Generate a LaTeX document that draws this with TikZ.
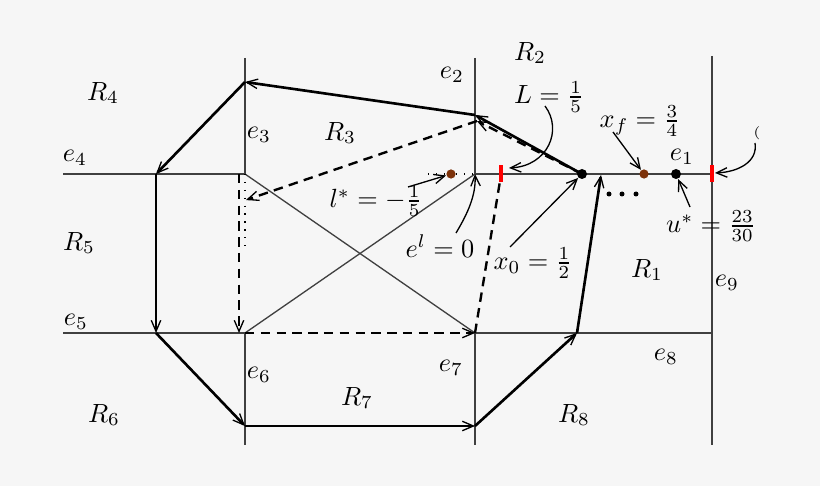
\documentclass[tikz,border=0pt]{standalone}
\usepackage{amsmath,amssymb}
\usetikzlibrary{arrows.meta}
\definecolor{bgcol}{RGB}{246,246,246}
\definecolor{dotbrown}{RGB}{125,50,10}

\begin{document}
\begin{tikzpicture}[
            x=0.38pt, y=-0.38pt,
            edgeline/.style={black!75, line width=0.5pt},
            boldpath/.style={line width=1pt, -{Straight Barb[length=4.2pt,width=3.6pt,line width=0.5pt]}},
            dashpath/.style={line width=0.9pt, dash pattern=on 3.6pt off 2.4pt},
            dashtip/.style={dashpath, -{Straight Barb[length=4.2pt,width=3.6pt,line width=0.5pt]}},
            dotline/.style={line width=0.5pt, dash pattern=on 0.5pt off 2.5pt},
            pointer/.style={line width=0.5pt, -{Straight Barb[length=4pt,width=3.6pt]}},
            blackdot/.style={circle, fill=black, inner sep=0pt, minimum size=3.8pt},
            browndot/.style={circle, fill=dotbrown, inner sep=0pt, minimum size=3.5pt},
            smalldot/.style={circle, fill=black, inner sep=0pt, minimum size=1.9pt},
            redtick/.style={rectangle, fill=red, inner sep=0pt, minimum width=1.6pt, minimum height=6.5pt},
            lab/.style={inner sep=1pt}
            ]
            \fill[bgcol] (0,0) rectangle (820,486);
            \useasboundingbox (0,0) rectangle (820,486);
            % grid of the edges
            \coordinate (n3t) at (245,58);
            \coordinate (n3b) at (245,174);
            \coordinate (n6t) at (245,333);
            \coordinate (n6b) at (245,445);
            \coordinate (n2t) at (475,58);
            \coordinate (n2b) at (475,174);
            \coordinate (n7t) at (475,333);
            \coordinate (n7b) at (475,445);
            \coordinate (n9t) at (712,56);
            \coordinate (n9b) at (712,445);
            \coordinate (n4l) at (63,174);
            \coordinate (n5l) at (63,333);
            \coordinate (n1r) at (712,174);
            \coordinate (n8r) at (712,333);
            \path[edgeline]
            (n3t) edge (n3b)
            (n6t) edge (n6b)
            (n2t) edge (n2b)
            (n7t) edge (n7b)
            (n9t) edge (n9b)
            (n4l) edge (n3b)
            (n5l) edge (n6t)
            (n2b) edge (n1r)
            (n7t) edge (n8r)
            (n3b) edge (n7t)
            (n6t) edge (n2b);
            % points on e1
            \node[browndot] (lstar) at (451,174) {};
            \node[blackdot] (x0) at (582,174) {};
            \node[browndot] (xf) at (644,174) {};
            \node[blackdot] (ustar) at (676,174) {};
            \node[redtick] (Lmark) at (501,173.5) {};
            \node[redtick] (Rmark) at (712,173.5) {};
            \foreach \X in {609,622,636}
            \node[smalldot] (dot\X) at (\X,194) {};
            % solid trajectory
            \coordinate (p1) at (475,115);
            \coordinate (p2) at (245,82);
            \coordinate (p3) at (156,174);
            \coordinate (p4) at (156,333);
            \coordinate (p5) at (245,426);
            \coordinate (p6) at (475,426);
            \coordinate (p7) at (577,333);
            \coordinate (p8) at (601,175);
            \path[boldpath]
            (x0.center) edge (p1)
            (p1) edge (p2)
            (p2) edge (p3)
            (p3) edge (p4)
            (p4) edge (p5)
            (p5) edge (p6)
            (p6) edge (p7)
            (p7) edge (p8);
            % dashed trajectory
            \coordinate (q1) at (477,121);
            \coordinate (q2) at (246,200);
            \coordinate (q3) at (239,174);
            \coordinate (q4) at (239,333);
            \coordinate (q5) at (500,181);
            \path[dashtip]
            (x0.center) edge (q1)
            (q1) edge (q2)
            (q3) edge (q4)
            (n6t) edge (n7t);
            \draw[dashpath] (n7t) -- (q5);
            \coordinate (d1) at (428,174);
            \coordinate (d2) at (245,247);
            \draw[dotline] (d1) -- (lstar) -- (n2b);
            \draw[dotline] (n3b) -- (d2);
            % labels
            \foreach \Name/\X/\Y/\Text in {R1/647/270/R_1, R2/530/53/R_2, R3/340/133/R_3, R4/103/93/R_4,
              R5/79/243/R_5, R6/104/415/R_6, R7/357/398/R_7, R8/574/415/R_8,
              e1/682/157/e_1, e2/452/75/e_2, e3/259/135/e_3, e4/75/158/e_4, e5/76/322/e_5,
              e6/259/375/e_6, e7/451/368/e_7, e8/666/357/e_8, e9/727/283/e_9}
            \node[lab] (\Name) at (\X,\Y) {$\Text$};
            \node[lab] (Llab) at (549,97) {$L=\frac{1}{5}$};
            \node[lab] (xflab) at (640,121) {$x_f=\frac{3}{4}$};
            \node[lab] (ulab) at (711,226) {$u^*=\frac{23}{30}$};
            \node[lab] (x0lab) at (533,263) {$x_0=\frac{1}{2}$};
            \node[lab] (ellab) at (440,246) {$e^l=0$};
            \node[lab] (llab) at (376,201) {$l^*=-\frac{1}{5}$};
            \node[lab] (cut) at (757,133) {\tiny(};
            % pointers
            \coordinate (La) at (545,106);
            \coordinate (Lb) at (509,168);
            \coordinate (xfa) at (613,132);
            \coordinate (ua) at (690,207);
            \coordinate (x0a) at (510,247);
            \coordinate (ela) at (456,233);
            \coordinate (la) at (408,187);
            \coordinate (ra) at (755,143);
            \coordinate (rb) at (715,173);
            \draw[pointer] (La) .. controls (563,130) and (548,166) .. (Lb);
            \draw[pointer] (ra) .. controls (758,162) and (738,172) .. (rb);
            \draw[pointer] (ela) .. controls (468,213) and (476,195) .. (n2b);
            \path[pointer]
            (xfa) edge (xf)
            (ua) edge (ustar)
            (x0a) edge (x0)
            (la) edge (lstar);
        \end{tikzpicture}
\end{document}
